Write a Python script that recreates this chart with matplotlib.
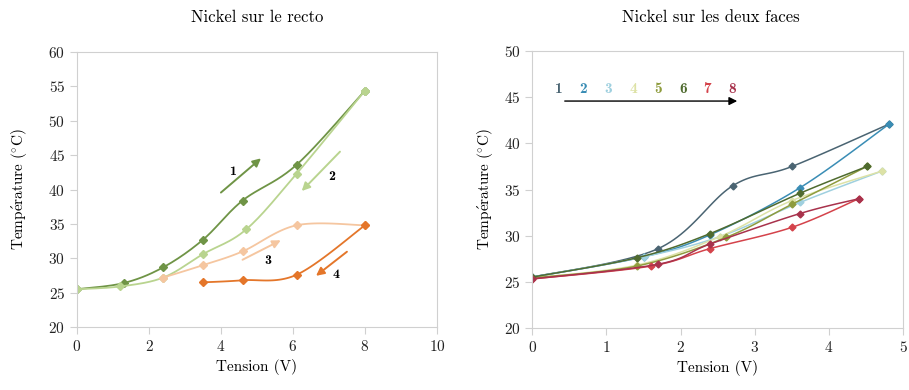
import numpy as np
import matplotlib
matplotlib.use("Agg")
from matplotlib import pyplot as plt

plt.rcParams['font.family'] = ['cmr10', 'DejaVu Serif']
plt.rcParams['mathtext.fontset'] = 'cm'
plt.rcParams['axes.formatter.use_mathtext'] = True

# Nickel sur le recto
g_x1 = [0, 1.3, 2.4, 3.5, 4.6, 6.1, 8.0]
g_y1 = [25.5, 26.4, 28.7, 32.7, 38.4, 43.6, 54.4]
g_x2 = [8.0, 6.1, 4.7, 3.5, 2.4, 1.2, 0]
g_y2 = [54.4, 42.3, 34.2, 30.6, 27.2, 25.9, 25.5]
g_x3 = [2.4, 3.5, 4.6, 6.1, 8.0]
g_y3 = [27.2, 29.0, 31.0, 34.8, 34.8]
g_x4 = [8.0, 6.1, 4.6, 3.5]
g_y4 = [34.8, 27.6, 26.8, 26.5]
g_couleurs = ['#6f9446', '#b9d48f', '#f5c6a0', '#e4762a']

# Nickel sur les deux faces
d_x = [
    [0, 1.7, 2.7, 3.5, 4.81],
    [4.81, 3.61, 2.4, 1.5, 0],
    [0, 1.5, 2.53, 3.61, 4.71],
    [4.71, 3.5, 2.53, 1.41, 0],
    [0, 1.41, 2.61, 3.5, 4.51],
    [4.51, 3.61, 2.39, 1.41, 0],
    [0, 1.6, 2.4, 3.5, 4.4],
    [4.4, 3.61, 2.4, 1.7, 0],
]
d_y = [
    [25.5, 28.6, 35.4, 37.5, 42.1],
    [42.1, 35.2, 30.1, 27.7, 25.5],
    [25.5, 27.7, 29.9, 33.6, 37.0],
    [37.0, 33.8, 29.9, 26.8, 25.4],
    [25.4, 26.7, 29.8, 33.4, 37.5],
    [37.5, 34.6, 30.2, 27.6, 25.5],
    [25.3, 26.7, 28.6, 30.9, 34.0],
    [34.0, 32.4, 29.1, 26.9, 25.3],
]
d_couleurs = ['#4a6472', '#3a8db5', '#9fd0df', '#dde2a6',
              '#8f9c3e', '#4f6b2f', '#d4434b', '#a8324c']
d_noms = ['1', '2', '3', '4', '5', '6', '7', '8']


def lisser(x, y, sx, sy, n=25):
    # courbe lissee type Catmull-Rom (comme Excel)
    p = np.column_stack([np.array(x) / sx, np.array(y) / sy])
    p = np.vstack([p[0], p, p[-1]])
    res = []
    for i in range(1, len(p) - 2):
        p0, p1, p2, p3 = p[i - 1], p[i], p[i + 1], p[i + 2]
        t = np.linspace(0, 1, n)[:, None]
        c = 0.5 * ((2 * p1) + (-p0 + p2) * t + (2 * p0 - 5 * p1 + 4 * p2 - p3) * t ** 2
                   + (-p0 + 3 * p1 - 3 * p2 + p3) * t ** 3)
        res.append(c)
    res = np.vstack(res)
    return res[:, 0] * sx, res[:, 1] * sy


def style_axes(ax, pad):
    for s in ax.spines.values():
        s.set_color('#d0d0d0')
    ax.tick_params(colors='#d0d0d0', labelcolor='#222222', labelsize=11, length=5)
    ax.set_xlabel('Tension (V)', fontsize=11)
    ax.set_ylabel(r'$\mathrm{Temp\acute{e}rature\ (^{\circ}C)}$', fontsize=11, labelpad=pad)


fig = plt.figure(figsize=(9.09, 3.9), dpi=100)

# graphique de gauche
ax1 = fig.add_axes([0.0847, 0.1615, 0.396, 0.705])
for xs, ys, c in zip([g_x1, g_x2, g_x3, g_x4], [g_y1, g_y2, g_y3, g_y4], g_couleurs):
    lx, ly = lisser(xs, ys, 10, 40)
    ax1.plot(lx, ly, color=c, lw=1.3)
    ax1.plot(xs, ys, 'D', color=c, ms=4)
ax1.set_xlim(0, 10)
ax1.set_ylim(20, 60)
ax1.set_xticks(range(0, 11, 2))
ax1.set_yticks(range(20, 61, 5))
style_axes(ax1, 14)

fleches = [((3.94, 39.3), (5.17, 44.8), '1', (4.32, 42.6)),
           ((7.36, 45.8), (6.19, 39.5), '2', (7.08, 41.8)),
           ((4.53, 29.6), (5.73, 32.8), '3', (5.31, 29.6)),
           ((7.56, 31.2), (6.58, 27.2), '4', (7.19, 27.5))]
for (a, b, t, pos), c in zip(fleches, g_couleurs):
    ax1.annotate('', xy=b, xytext=a,
                 arrowprops=dict(arrowstyle='-|>', color=c, lw=1.4, mutation_scale=12))
    ax1.text(pos[0], pos[1], t, fontsize=10, family=['cmb10', 'DejaVu Serif'],
             ha='center', va='center')

# graphique de droite
ax2 = fig.add_axes([0.5856, 0.1595, 0.408, 0.709])
for xs, ys, c in zip(d_x, d_y, d_couleurs):
    lx, ly = lisser(xs, ys, 5, 30)
    ax2.plot(lx, ly, color=c, lw=1.1)
    ax2.plot(xs, ys, 'D', color=c, ms=3.5)
ax2.set_xlim(0, 5)
ax2.set_ylim(20, 50)
ax2.set_xticks(range(0, 6))
ax2.set_yticks(range(20, 51, 5))
style_axes(ax2, 6)

ax2.annotate('', xy=(2.8, 44.6), xytext=(0.4, 44.6),
             arrowprops=dict(arrowstyle='-|>', color='black', lw=1.0, mutation_scale=12))
pos_num = [0.35, 0.69, 1.02, 1.36, 1.70, 2.04, 2.36, 2.70]
for px, t, c in zip(pos_num, d_noms, d_couleurs):
    ax2.text(px, 45.9, t, color=c, fontsize=11, family=['cmb10', 'DejaVu Serif'],
             ha='center', va='center')

fig.text(0.283, 0.955, 'Nickel sur le recto', fontsize=12, ha='center', va='center')
fig.text(0.782, 0.955, 'Nickel sur les deux faces', fontsize=12, ha='center', va='center')

fig.savefig('out.png', dpi=100)
